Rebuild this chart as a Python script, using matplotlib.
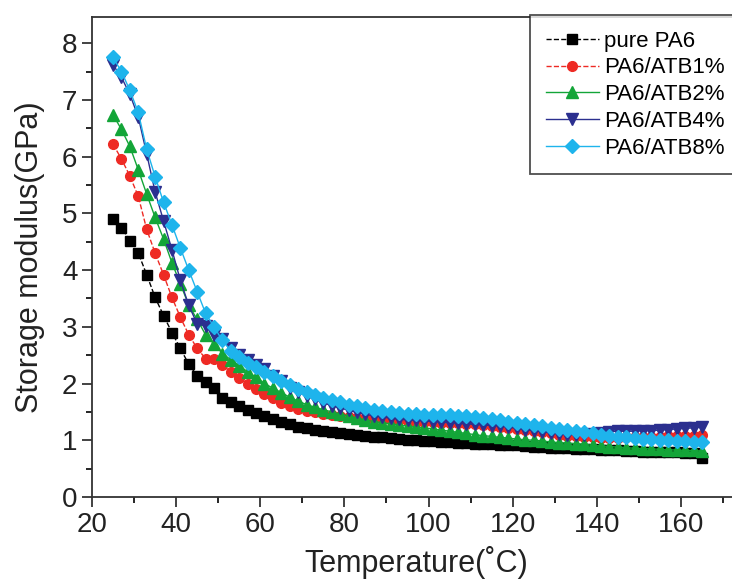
import numpy as np
import matplotlib
matplotlib.use("Agg")
import matplotlib.pyplot as plt
from matplotlib.ticker import MultipleLocator

plt.rcParams['font.family'] = ['Liberation Sans', 'DejaVu Sans']

# temperatura (C), um ponto a cada 2 graus
temp = np.arange(25, 166, 2)

pure_pa6 = [4.90, 4.75, 4.52, 4.30, 3.92, 3.52, 3.20, 2.90, 2.62, 2.34,
            2.14, 2.03, 1.92, 1.74, 1.67, 1.60, 1.54, 1.48, 1.43, 1.38,
            1.33, 1.28, 1.24, 1.21, 1.19, 1.17, 1.15, 1.13, 1.11, 1.09,
            1.07, 1.06, 1.05, 1.04, 1.02, 1.01, 1.00, 0.99, 0.98, 0.97,
            0.97, 0.96, 0.95, 0.94, 0.94, 0.93, 0.92, 0.92, 0.91, 0.90,
            0.89, 0.88, 0.87, 0.87, 0.86, 0.85, 0.85, 0.84, 0.83, 0.82,
            0.82, 0.81, 0.81, 0.80, 0.80, 0.79, 0.79, 0.79, 0.78, 0.78,
            0.69]

atb1 = [6.22, 5.96, 5.66, 5.30, 4.72, 4.30, 3.92, 3.52, 3.17, 2.86,
        2.62, 2.44, 2.43, 2.32, 2.21, 2.10, 1.99, 1.90, 1.82, 1.75,
        1.66, 1.60, 1.56, 1.52, 1.49, 1.47, 1.45, 1.43, 1.41, 1.40,
        1.39, 1.38, 1.37, 1.36, 1.35, 1.34, 1.33, 1.33, 1.32, 1.31,
        1.31, 1.30, 1.29, 1.28, 1.27, 1.25, 1.24, 1.22, 1.20, 1.18,
        1.16, 1.14, 1.12, 1.10, 1.08, 1.07, 1.06, 1.05, 1.04, 1.04,
        1.04, 1.05, 1.05, 1.05, 1.06, 1.06, 1.07, 1.07, 1.08, 1.08,
        1.09]

atb2 = [6.74, 6.48, 6.18, 5.77, 5.34, 4.93, 4.55, 4.13, 3.76, 3.38,
        3.13, 2.86, 2.70, 2.53, 2.42, 2.31, 2.21, 2.11, 2.00, 1.92,
        1.84, 1.76, 1.69, 1.63, 1.58, 1.54, 1.50, 1.46, 1.43, 1.39,
        1.36, 1.33, 1.31, 1.29, 1.27, 1.25, 1.23, 1.22, 1.20, 1.18,
        1.16, 1.14, 1.12, 1.10, 1.08, 1.07, 1.05, 1.04, 1.02, 1.01,
        1.00, 0.99, 0.97, 0.96, 0.95, 0.94, 0.93, 0.91, 0.90, 0.89,
        0.88, 0.87, 0.86, 0.85, 0.85, 0.84, 0.83, 0.83, 0.82, 0.82,
        0.81]

atb4 = [7.62, 7.40, 7.10, 6.70, 6.05, 5.38, 4.87, 4.36, 3.82, 3.38,
        3.05, 3.02, 2.86, 2.78, 2.62, 2.50, 2.41, 2.33, 2.25, 2.14,
        2.04, 1.93, 1.85, 1.78, 1.72, 1.66, 1.61, 1.57, 1.53, 1.49,
        1.46, 1.43, 1.41, 1.39, 1.37, 1.36, 1.35, 1.34, 1.33, 1.32,
        1.31, 1.30, 1.29, 1.28, 1.27, 1.26, 1.25, 1.23, 1.21, 1.19,
        1.17, 1.15, 1.13, 1.11, 1.10, 1.10, 1.10, 1.11, 1.13, 1.15,
        1.16, 1.16, 1.16, 1.17, 1.17, 1.18, 1.19, 1.20, 1.21, 1.22,
        1.23]

atb8 = [7.75, 7.50, 7.17, 6.78, 6.13, 5.65, 5.20, 4.80, 4.39, 4.00,
        3.62, 3.24, 3.00, 2.76, 2.58, 2.46, 2.37, 2.29, 2.21, 2.13,
        2.05, 1.97, 1.91, 1.85, 1.80, 1.75, 1.71, 1.67, 1.63, 1.60,
        1.57, 1.54, 1.52, 1.50, 1.48, 1.47, 1.46, 1.45, 1.44, 1.44,
        1.44, 1.43, 1.42, 1.41, 1.39, 1.37, 1.35, 1.33, 1.31, 1.29,
        1.27, 1.25, 1.22, 1.20, 1.18, 1.16, 1.14, 1.12, 1.10, 1.08,
        1.06, 1.05, 1.04, 1.03, 1.02, 1.01, 1.00, 0.99, 0.98, 0.97,
        0.97]

nomes = ["pure PA6", "PA6/ATB1%", "PA6/ATB2%", "PA6/ATB4%", "PA6/ATB8%"]

fig = plt.figure(figsize=(7.32, 5.83), dpi=100)
ax = fig.add_axes([0.1257, 0.1475, 0.885, 0.824])

ax.plot(temp, pure_pa6, color='black', ls='--', lw=1, marker='s', ms=6.5, label=nomes[0])
ax.plot(temp, atb1, color='#ee2a24', ls='--', lw=1, marker='o', ms=7, label=nomes[1])
ax.plot(temp, atb2, color='#13a538', ls='-', lw=1, marker='^', ms=8, label=nomes[2])
ax.plot(temp, atb4, color='#2b2f8f', ls='-', lw=1, marker='v', ms=8, label=nomes[3])
ax.plot(temp, atb8, color='#1eb4ec', ls='-', lw=1, marker='D', ms=7, label=nomes[4])

ax.set_xlim(20, 174)
ax.set_ylim(0, 8.47)
ax.xaxis.set_major_locator(MultipleLocator(20))
ax.xaxis.set_minor_locator(MultipleLocator(10))
ax.yaxis.set_major_locator(MultipleLocator(1))
ax.yaxis.set_minor_locator(MultipleLocator(0.5))
ax.tick_params(which='major', direction='out', length=7, width=1.2, labelsize=20, colors='#222222')
ax.tick_params(which='minor', direction='out', length=4, width=1.2)
for s in ax.spines.values():
    s.set_linewidth(1.3)
    s.set_color('#333333')

ax.set_xlabel("Temperature(\u02daC)", fontsize=22, color='#222222', labelpad=6)
ax.set_ylabel("Storage modulus(GPa)", fontsize=22, color='#222222', labelpad=12)

leg = ax.legend(loc='upper left', bbox_to_anchor=(530/732, 1-15/583), bbox_transform=fig.transFigure,
                fontsize=16, frameon=True, fancybox=False, handlelength=2.4,
                handletextpad=0.25, labelspacing=0.26, borderpad=0.7, borderaxespad=0)
leg.get_frame().set_edgecolor('#222222')
leg.get_frame().set_linewidth(1.3)

plt.savefig("out.png", dpi=100)
